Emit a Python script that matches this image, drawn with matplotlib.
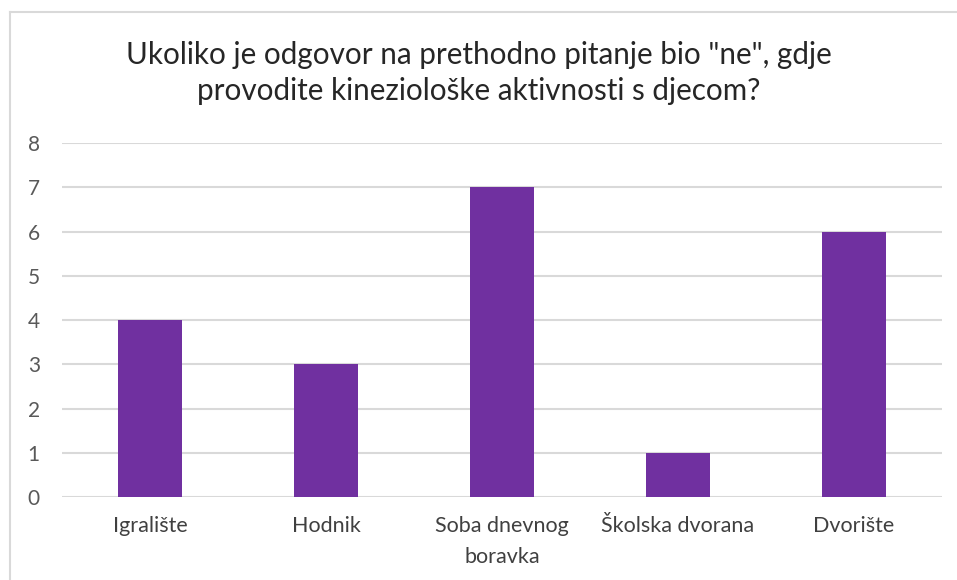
import matplotlib.pyplot as plt
from matplotlib.lines import Line2D

# chart data
categories = ['Igralište', 'Hodnik', 'Soba dnevnog\nboravka', 'Školska dvorana', 'Dvorište']
values = [4, 3, 7, 1, 6]
yticks = [0, 1, 2, 3, 4, 5, 6, 7, 8]

plt.rcParams['font.family'] = ['Lato', 'DejaVu Sans']

fig = plt.figure(figsize=(9.57, 5.8), dpi=100)
ax = fig.add_axes([0.0648, 0.1431, 0.9195, 0.6103])

x = range(len(categories))
ax.bar(x, values, width=0.364, color='#7030A0', zorder=3)

ax.set_xlim(-0.5, len(categories) - 0.5)
ax.set_ylim(0, 8)
ax.set_yticks(yticks)
ax.set_xticks(list(x))
ax.set_xticklabels(categories, fontsize=15.5, color='#404040', linespacing=1.65)
ax.tick_params(axis='x', length=0, pad=14)
ax.tick_params(axis='y', length=0, pad=16, labelsize=15, labelcolor='#595959')
ax.yaxis.grid(True, color='#D9D9D9', linewidth=1.5, zorder=0)
for s in ax.spines.values():
    s.set_visible(False)

fig.text(0.5, 0.874, 'Ukoliko je odgovor na prethodno pitanje bio "ne", gdje\nprovodite kineziološke aktivnosti s djecom?',
         ha='center', va='center', fontsize=21.3, color='#262626', linespacing=1.35)

# chart frame (cropped at right and bottom)
fig.add_artist(Line2D([10 / 957, 1], [1 - 12 / 580, 1 - 12 / 580], color='#D9D9D9', lw=1.5))
fig.add_artist(Line2D([10 / 957, 10 / 957], [0, 1 - 12 / 580], color='#D9D9D9', lw=1.5))

fig.savefig('out.png', dpi=100)
